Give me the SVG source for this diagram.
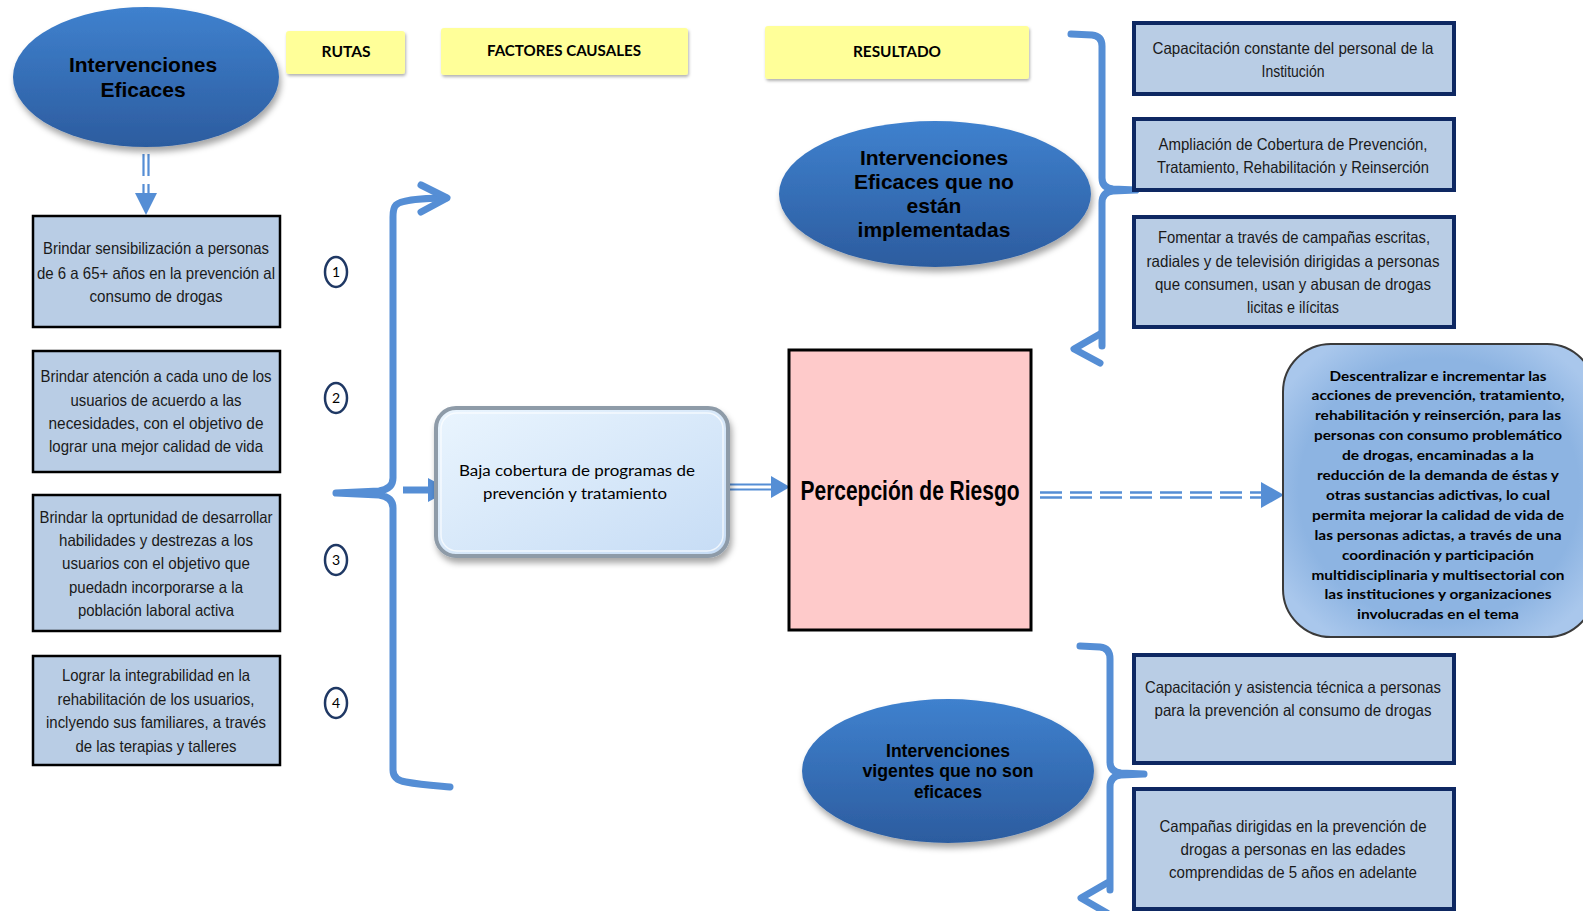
<svg xmlns="http://www.w3.org/2000/svg" width="1583" height="911" viewBox="0 0 1583 911">
<style>
.ell{fill:url(#ellG);filter:url(#sh)}
.hdr{fill:#FFFF99;filter:url(#shs)}
.lbox{fill:#B9CDE5;stroke:#000;stroke-width:2.5}
.rbox{fill:#B9CDE5;stroke:#0E2862;stroke-width:4}
.tn{font-family:"Liberation Sans Narrow","Liberation Sans",sans-serif;font-size:16.5px;fill:#1a1a1a;text-anchor:middle}
.tb{font-family:"Liberation Sans",Arial,sans-serif;font-weight:bold;font-size:21px;fill:#000;text-anchor:middle}
.tnb{font-family:"Liberation Sans Narrow","Liberation Sans",sans-serif;font-weight:bold;fill:#000;text-anchor:middle}
.cal{font-family:Lato,"Liberation Sans",sans-serif;text-anchor:middle;fill:#000}
.br{fill:none;stroke:#558ED5;stroke-width:7;stroke-linecap:round;stroke-linejoin:round}
.num{fill:#fff;stroke:#1F3864;stroke-width:2.5}
.dl{stroke:#558ED5;stroke-width:2.2;fill:none}
.ah{fill:#558ED5}
</style>
<defs>
<linearGradient id="ellG" x1="0" y1="0" x2="0" y2="1">
<stop offset="0" stop-color="#3F81CE"/>
<stop offset="1" stop-color="#2C5C9F"/>
</linearGradient>
<linearGradient id="bajaG" x1="0" y1="0" x2="1" y2="1">
<stop offset="0" stop-color="#EAF5FE"/>
<stop offset="1" stop-color="#C6DCF5"/>
</linearGradient>
<radialGradient id="rG" cx="0.5" cy="0.5" r="0.6">
<stop offset="0.75" stop-color="#8DB4E2"/>
<stop offset="1" stop-color="#A9C7EC"/>
</radialGradient>
<filter id="sh" x="-10%" y="-10%" width="125%" height="130%">
<feDropShadow dx="2" dy="5" stdDeviation="3" flood-color="#000" flood-opacity="0.35"/>
</filter>
<filter id="shs" x="-10%" y="-20%" width="125%" height="150%">
<feDropShadow dx="1" dy="2" stdDeviation="1.5" flood-color="#000" flood-opacity="0.3"/>
</filter>
</defs>

<g id="connectors">
<!-- left brace -->
<path class="br" d="M446,198 C425,198 401,200 396,205 Q393,208 393,217 L393,478 Q393,489 379,491 L336,493 M336,493 L379,495 Q393,497 393,508 L393,770 Q393,780 406,782 C422,785 440,786 450,787"/>
<path class="br" d="M421,185 L447,198 L421,212"/>
<!-- brace to Baja -->
<line x1="403" y1="490" x2="432" y2="490" stroke="#558ED5" stroke-width="7"/>
<polygon class="ah" points="428,478 450,490 428,502"/>
<!-- ellipse 1 to box 1 -->
<path class="dl" d="M143.5,154 V176 M148.5,154 V176 M143.5,184 V194 M148.5,184 V194"/>
<polygon class="ah" points="135,193 157,193 146,215"/>
<!-- Baja to Percepcion -->
<path class="dl" d="M730,484.5 H775 M730,489.5 H775"/>
<polygon class="ah" points="771,476 790,487 771,498"/>
<!-- Percepcion to right box dashed -->
<path d="M1040,492.5 H1264 M1040,497.5 H1264" stroke="#558ED5" stroke-width="2.5" stroke-dasharray="22 8" fill="none"/>
<polygon class="ah" points="1261,482 1284,495 1261,508"/>
<!-- top-right brace -->
<path class="br" d="M1071,34 L1092,35 Q1102,36 1102,46 L1102,178 Q1102,188 1113,189 L1136,190 M1136,190 L1113,191 Q1102,192 1102,203 L1102,346"/>
<path class="br" d="M1100,334 L1074,349 L1100,363"/>
<!-- bottom brace -->
<path class="br" d="M1080,646 L1100,647 Q1110,648 1110,659 L1110,762 Q1110,772 1121,773 L1144,774 M1144,774 L1121,775 Q1110,776 1110,787 L1110,890"/>
<path class="br" d="M1107,883 L1081,898 L1107,913"/>
</g>

<g id="n-eficaces">
<ellipse class="ell" cx="146" cy="77" rx="133" ry="70"/>
<text class="tb" x="143" y="71.5">Intervenciones</text>
<text class="tb" x="143" y="96.5">Eficaces</text>
</g>

<g id="h-rutas">
<rect class="hdr" x="286" y="31" width="119" height="43" rx="3"/>
<text class="cal" x="346" y="57" font-weight="bold" font-size="15" textLength="49" lengthAdjust="spacingAndGlyphs">RUTAS</text>
</g>
<g id="h-factores">
<rect class="hdr" x="441" y="28" width="247" height="47" rx="3"/>
<text class="cal" x="564" y="56" font-weight="bold" font-size="15" textLength="154" lengthAdjust="spacingAndGlyphs">FACTORES CAUSALES</text>
</g>
<g id="h-resultado">
<rect class="hdr" x="765" y="26" width="264" height="53" rx="3"/>
<text class="cal" x="897" y="57" font-weight="bold" font-size="15" textLength="88" lengthAdjust="spacingAndGlyphs">RESULTADO</text>
</g>

<g id="b1">
<rect class="lbox" x="33" y="216" width="247" height="111"/>
<text class="tn" x="156" y="254" textLength="226" lengthAdjust="spacingAndGlyphs">Brindar sensibilización a personas</text>
<text class="tn" x="156" y="278.5" textLength="238" lengthAdjust="spacingAndGlyphs">de 6 a 65+ años en la prevención al</text>
<text class="tn" x="156" y="302" textLength="133" lengthAdjust="spacingAndGlyphs">consumo de drogas</text>
</g>
<g id="b2">
<rect class="lbox" x="33" y="351" width="247" height="121"/>
<text class="tn" x="156" y="382" textLength="231" lengthAdjust="spacingAndGlyphs">Brindar atención a cada uno de los</text>
<text class="tn" x="156" y="406" textLength="171" lengthAdjust="spacingAndGlyphs">usuarios de acuerdo a las</text>
<text class="tn" x="156" y="429" textLength="215" lengthAdjust="spacingAndGlyphs">necesidades, con el objetivo de</text>
<text class="tn" x="156" y="452" textLength="214" lengthAdjust="spacingAndGlyphs">lograr una mejor calidad de vida</text>
</g>
<g id="b3">
<rect class="lbox" x="33" y="495" width="247" height="136"/>
<text class="tn" x="156" y="523" textLength="233" lengthAdjust="spacingAndGlyphs">Brindar la oprtunidad de desarrollar</text>
<text class="tn" x="156" y="546" textLength="194" lengthAdjust="spacingAndGlyphs">habilidades y destrezas a los</text>
<text class="tn" x="156" y="569" textLength="188" lengthAdjust="spacingAndGlyphs">usuarios con el objetivo que</text>
<text class="tn" x="156" y="593" textLength="174" lengthAdjust="spacingAndGlyphs">puedadn incorporarse a la</text>
<text class="tn" x="156" y="616" textLength="156" lengthAdjust="spacingAndGlyphs">población laboral activa</text>
</g>
<g id="b4">
<rect class="lbox" x="33" y="656" width="247" height="109"/>
<text class="tn" x="156" y="681" textLength="188" lengthAdjust="spacingAndGlyphs">Lograr la integrabilidad en la</text>
<text class="tn" x="156" y="705" textLength="197" lengthAdjust="spacingAndGlyphs">rehabilitación de los usuarios,</text>
<text class="tn" x="156" y="728" textLength="220" lengthAdjust="spacingAndGlyphs">inclyendo sus familiares, a través</text>
<text class="tn" x="156" y="752" textLength="161" lengthAdjust="spacingAndGlyphs">de las terapias y talleres</text>
</g>

<g id="c1"><ellipse class="num" cx="336" cy="272" rx="11" ry="15"/><text class="cal" x="336" y="277" font-size="14">1</text></g>
<g id="c2"><ellipse class="num" cx="336" cy="398" rx="11" ry="15"/><text class="cal" x="336" y="403" font-size="14">2</text></g>
<g id="c3"><ellipse class="num" cx="336" cy="560" rx="11" ry="15"/><text class="cal" x="336" y="565" font-size="14">3</text></g>
<g id="c4"><ellipse class="num" cx="336" cy="703" rx="11" ry="15"/><text class="cal" x="336" y="708" font-size="14">4</text></g>

<g id="n-baja">
<rect x="436" y="408" width="292" height="148" rx="20" fill="url(#bajaG)" stroke="#8E9BA8" stroke-width="4" filter="url(#sh)"/>
<rect x="441" y="413" width="282" height="138" rx="16" fill="none" stroke="#FFFFFF" stroke-opacity="0.7" stroke-width="1.5"/>
<text class="cal" x="577" y="476" font-size="15.5" fill="#333" textLength="236" lengthAdjust="spacingAndGlyphs">Baja cobertura de programas de</text>
<text class="cal" x="575" y="499" font-size="15.5" fill="#333" textLength="184" lengthAdjust="spacingAndGlyphs">prevención y tratamiento</text>
</g>

<g id="n-percepcion">
<rect x="789" y="350" width="242" height="280" fill="#FECACA" stroke="#000" stroke-width="3"/>
<text class="tnb" x="910" y="500" font-size="27" textLength="219" lengthAdjust="spacingAndGlyphs">Percepción de Riesgo</text>
</g>

<g id="n-no-implementadas">
<ellipse class="ell" cx="935" cy="194" rx="156" ry="73"/>
<text class="tb" x="934" y="165">Intervenciones</text>
<text class="tb" x="934" y="189">Eficaces que no</text>
<text class="tb" x="934" y="213">están</text>
<text class="tb" x="934" y="237">implementadas</text>
</g>

<g id="r1">
<rect class="rbox" x="1134" y="23" width="320" height="71"/>
<text class="tn" x="1293" y="53.5" textLength="281" lengthAdjust="spacingAndGlyphs">Capacitación constante del personal  de la</text>
<text class="tn" x="1293" y="76.5" textLength="63" lengthAdjust="spacingAndGlyphs">Institución</text>
</g>
<g id="r2">
<rect class="rbox" x="1134" y="119" width="320" height="71"/>
<text class="tn" x="1293" y="150" textLength="269" lengthAdjust="spacingAndGlyphs">Ampliación de Cobertura de Prevención,</text>
<text class="tn" x="1293" y="173" textLength="272" lengthAdjust="spacingAndGlyphs">Tratamiento, Rehabilitación y Reinserción</text>
</g>
<g id="r3">
<rect class="rbox" x="1134" y="217" width="320" height="110"/>
<text class="tn" x="1294" y="243" textLength="272" lengthAdjust="spacingAndGlyphs">Fomentar a través de campañas escritas,</text>
<text class="tn" x="1293" y="266.5" textLength="293" lengthAdjust="spacingAndGlyphs">radiales y de televisión dirigidas a personas</text>
<text class="tn" x="1293" y="290" textLength="276" lengthAdjust="spacingAndGlyphs">que consumen, usan y abusan de drogas</text>
<text class="tn" x="1293" y="313" textLength="92" lengthAdjust="spacingAndGlyphs">licitas e ilícitas</text>
</g>

<g id="n-resultado">
<rect x="1283" y="344" width="312" height="293" rx="48" fill="url(#rG)" stroke="#3A3A3A" stroke-width="2"/>
<g class="cal" font-weight="bold" font-size="14" fill="#111">
<text x="1438" y="380.5" textLength="217" lengthAdjust="spacingAndGlyphs">Descentralizar e incrementar las</text>
<text x="1438" y="400.4" textLength="253" lengthAdjust="spacingAndGlyphs">acciones de prevención, tratamiento,</text>
<text x="1438" y="420.3" textLength="246" lengthAdjust="spacingAndGlyphs">rehabilitación y reinserción, para las</text>
<text x="1438" y="440.2" textLength="248" lengthAdjust="spacingAndGlyphs">personas con  consumo problemático</text>
<text x="1438" y="460.1" textLength="192" lengthAdjust="spacingAndGlyphs">de drogas, encaminadas a la</text>
<text x="1438" y="480" textLength="242" lengthAdjust="spacingAndGlyphs">reducción de la demanda de éstas y</text>
<text x="1438" y="499.9" textLength="224" lengthAdjust="spacingAndGlyphs">otras  sustancias adictivas, lo cual</text>
<text x="1438" y="519.8" textLength="252" lengthAdjust="spacingAndGlyphs">permita mejorar la calidad de vida de</text>
<text x="1438" y="539.7" textLength="247" lengthAdjust="spacingAndGlyphs">las personas adictas,  a través de una</text>
<text x="1438" y="559.6" textLength="192" lengthAdjust="spacingAndGlyphs">coordinación y participación</text>
<text x="1438" y="579.5" textLength="253" lengthAdjust="spacingAndGlyphs">multidisciplinaria y multisectorial con</text>
<text x="1438" y="599.4" textLength="227" lengthAdjust="spacingAndGlyphs">las instituciones y organizaciones</text>
<text x="1438" y="619.3" textLength="162" lengthAdjust="spacingAndGlyphs">involucradas en el tema</text>
</g>
</g>

<g id="n-vigentes">
<ellipse class="ell" cx="948" cy="771" rx="146" ry="72"/>
<text class="tnb" x="948" y="757" font-size="19" textLength="124" lengthAdjust="spacingAndGlyphs">Intervenciones</text>
<text class="tnb" x="948" y="777" font-size="19" textLength="171" lengthAdjust="spacingAndGlyphs">vigentes que no son</text>
<text class="tnb" x="948" y="798" font-size="19" textLength="68" lengthAdjust="spacingAndGlyphs">eficaces</text>
</g>

<g id="r4">
<rect class="rbox" x="1134" y="655" width="320" height="108"/>
<text class="tn" x="1293" y="692.5" textLength="296" lengthAdjust="spacingAndGlyphs">Capacitación y asistencia técnica a personas</text>
<text class="tn" x="1293" y="716" textLength="277" lengthAdjust="spacingAndGlyphs">para la prevención al consumo de drogas</text>
</g>
<g id="r5">
<rect class="rbox" x="1134" y="789" width="320" height="120"/>
<text class="tn" x="1293" y="832" textLength="267" lengthAdjust="spacingAndGlyphs">Campañas dirigidas en la prevención de</text>
<text class="tn" x="1293" y="855" textLength="225" lengthAdjust="spacingAndGlyphs">drogas a personas en las edades</text>
<text class="tn" x="1293" y="878" textLength="248" lengthAdjust="spacingAndGlyphs">comprendidas de 5 años en adelante</text>
</g>
</svg>
